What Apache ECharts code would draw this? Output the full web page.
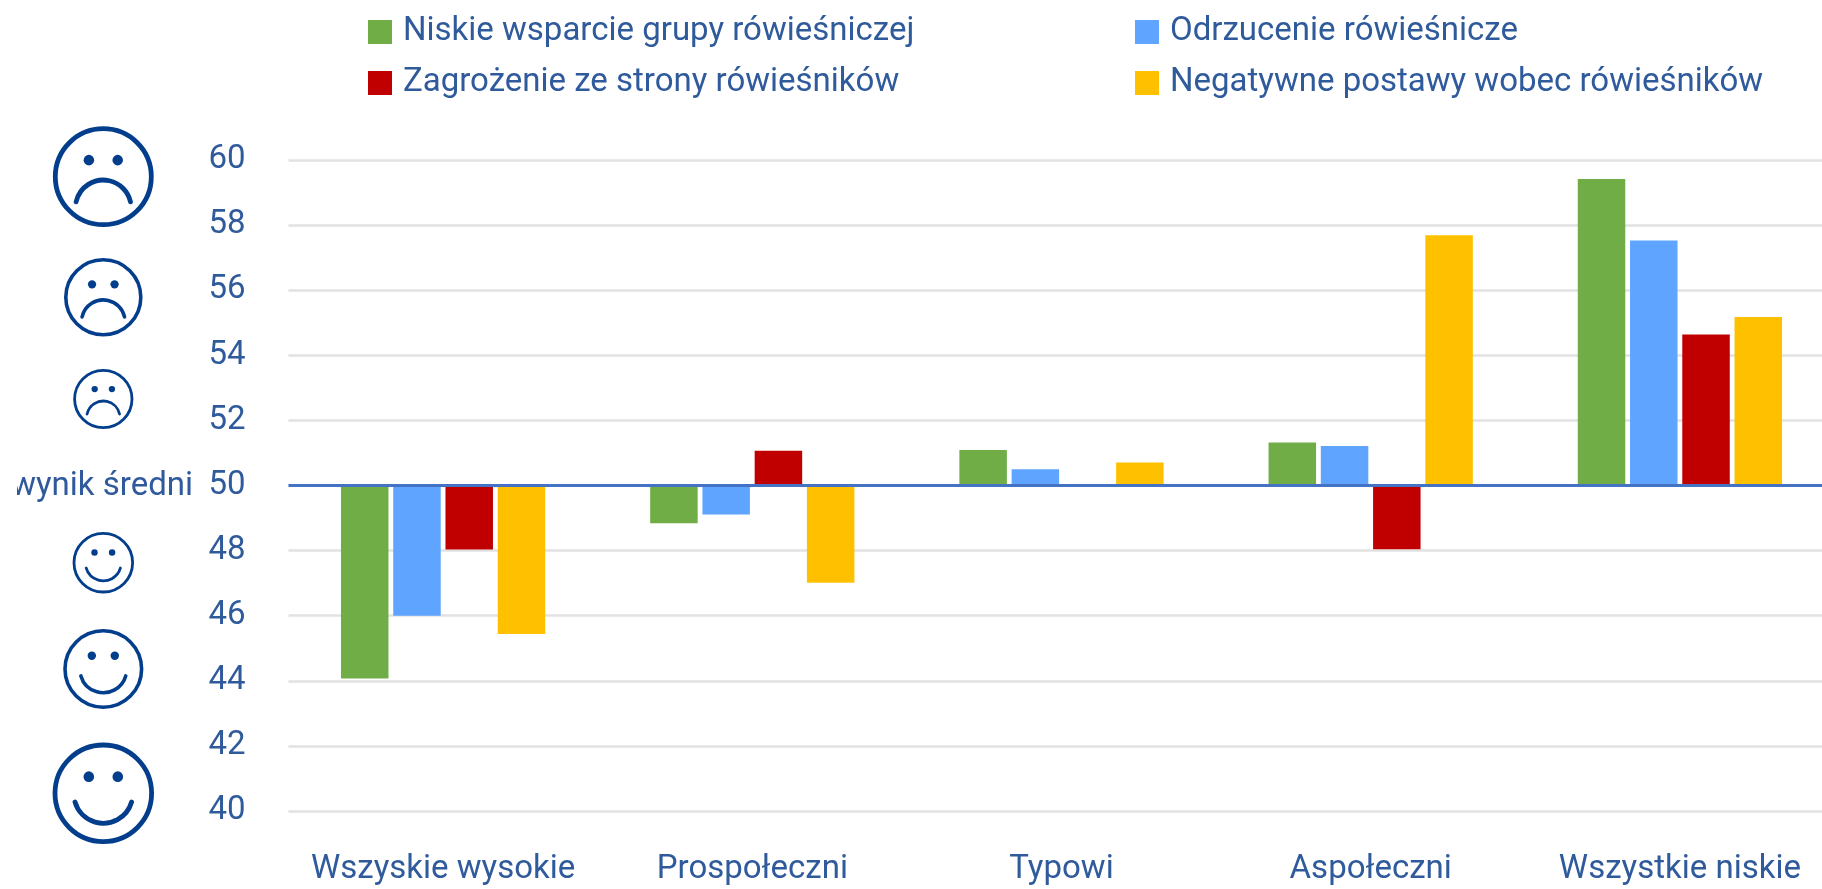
<!DOCTYPE html>
<html>
<head>
<meta charset="utf-8">
<style>
  html, body { margin: 0; padding: 0; background: #fff; overflow: hidden; }
  #main { width: 1822px; height: 889px; }
</style>
</head>
<body>
<div id="main"></div>
<script src="https://cdn.jsdelivr.net/npm/echarts@6/dist/echarts.min.js"></script>
<script>
const categories = ['Wszyskie wysokie', 'Prospołeczni', 'Typowi', 'Aspołeczni', 'Wszystkie niskie']
const niskieWsparcie = [44.07, 48.84, 51.09, 51.32, 59.42]
const odrzucenie = [46.0, 49.11, 50.5, 51.21, 57.53]
const zagrozenie = [48.03, 51.07, 50.0, 48.04, 54.64]
const negatywne = [45.44, 47.01, 50.71, 57.69, 55.18]
const yMin = 40
const yMax = 60
const yStep = 2
const baseValue = 50

const names = ['Niskie wsparcie grupy rówieśniczej', 'Odrzucenie rówieśnicze', 'Zagrożenie ze strony rówieśników', 'Negatywne postawy wobec rówieśników']
const colors = ['#70ad47', '#5fa5ff', '#c00000', '#ffc000']

const blue = '#2f5a9b'
const faceBlue = '#033e8c'
const font = 'Roboto, sans-serif'

// buzia: srodek, promien, grubosc linii, czy usmiech
function face(cx, cy, r, lw, happy) {
  const style = { fill: 'none', stroke: faceBlue, lineWidth: lw, lineCap: 'round' }
  const mouth = happy
    ? { cx: cx, cy: cy + r * 0.01, r: r * 0.61, startAngle: Math.PI * 0.09, endAngle: Math.PI * 0.91 }
    : { cx: cx, cy: cy + r * 0.65, r: r * 0.58, startAngle: Math.PI * 1.07, endAngle: Math.PI * 1.93 }
  return [
    { type: 'circle', shape: { cx: cx, cy: cy, r: r }, style: style },
    { type: 'circle', shape: { cx: cx - r * 0.3, cy: cy - r * 0.345, r: r * 0.11 }, style: { fill: faceBlue } },
    { type: 'circle', shape: { cx: cx + r * 0.3, cy: cy - r * 0.345, r: r * 0.11 }, style: { fill: faceBlue } },
    { type: 'arc', shape: mouth, style: style }
  ]
}

function legendColumn(left, data) {
  return {
    left: left,
    top: 12,
    orient: 'vertical',
    padding: 0,
    itemGap: 11,
    itemWidth: 24,
    itemHeight: 24,
    icon: 'rect',
    selectedMode: false,
    data: data,
    textStyle: { color: blue, fontFamily: font, fontSize: 33, padding: [4, 0, 0, 6], lineHeight: 36 }
  }
}

// os liczona od 50: slupki rosna w gore lub w dol od tej linii
function barSeries(i, values) {
  return {
    name: names[i],
    type: 'bar',
    data: values.map(v => +(v - baseValue).toFixed(2)),
    barWidth: 47.5,
    barGap: '10%',
    itemStyle: { color: colors[i] }
  }
}

const chart = echarts.init(document.getElementById('main'))
const series = [
  barSeries(0, niskieWsparcie),
  barSeries(1, odrzucenie),
  barSeries(2, zagrozenie),
  barSeries(3, negatywne)
]
series[0].markLine = {
  silent: true,
  symbol: 'none',
  label: { show: false },
  lineStyle: { color: '#4472c4', width: 3, type: 'solid' },
  data: [{ yAxis: 0 }]
}

chart.setOption({
  animation: false,
  legend: [
    legendColumn(368, [names[0], names[2]]),
    legendColumn(1135, [names[1], names[3]])
  ],
  grid: { left: 288.5, width: 1546, top: 160, height: 651, outerBoundsMode: 'none' },
  xAxis: {
    type: 'category',
    data: categories,
    axisLine: { show: false, onZero: false },
    axisTick: { show: false },
    axisLabel: { color: blue, fontFamily: font, fontSize: 33, margin: 42, interval: 0 }
  },
  yAxis: {
    type: 'value',
    min: yMin - baseValue,
    max: yMax - baseValue,
    interval: yStep,
    axisLine: { show: false },
    axisTick: { show: false },
    axisLabel: { color: blue, fontFamily: font, fontSize: 33, margin: 43, padding: [4, 0, 0, 0], formatter: v => String(v + baseValue) },
    splitLine: { lineStyle: { color: '#e2e2e2', width: 2.5 } }
  },
  series: series,
  graphic: [].concat(
    face(103.3, 176.7, 48, 4.8, false),
    face(103.3, 297.3, 37.5, 3.6, false),
    face(103.3, 399, 28.7, 2.8, false),
    face(103.3, 562.7, 29.3, 2.8, true),
    face(103.3, 669, 38.3, 3.6, true),
    face(103.3, 793.3, 48.3, 4.8, true),
    [
      { type: 'text', x: 193, y: 487, z: 10, style: { text: 'wynik średni', fill: blue, font: '33px ' + font, textAlign: 'right', textVerticalAlign: 'middle' } },
      { type: 'rect', z: 11, shape: { x: 0, y: 460, width: 17, height: 50 }, style: { fill: '#fff' } }
    ]
  )
})
</script>
</body>
</html>
